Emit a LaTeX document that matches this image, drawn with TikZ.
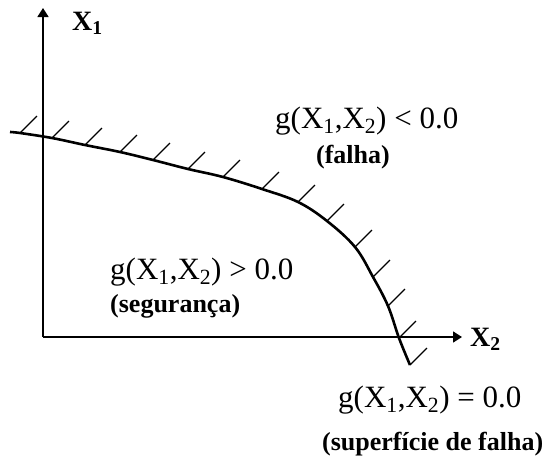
\documentclass[tikz,border=0pt]{standalone}
\usepackage{fontspec}
\setmainfont{Liberation Serif}
\usetikzlibrary{arrows.meta}
\begin{document}
\begin{tikzpicture}[x=1pt,y=-1pt,
  axis/.style={line width=1.6pt,-{Triangle[width=11pt,length=9pt]}},
  surf/.style={line width=2.6pt,line join=round},
  hatch/.style={line width=1.3pt},
  formula/.style={font=\fontsize{31}{31}\selectfont,inner sep=0pt},
  axlabel/.style={font=\fontsize{28}{28}\selectfont\bfseries,inner sep=0pt},
  note/.style={font=\fontsize{26}{26}\selectfont\bfseries,inner sep=0pt}]
\useasboundingbox (0,0) rectangle (549,461);
% axes
\coordinate (O) at (43,337);
\coordinate (ytip) at (43,8);
\coordinate (xtip) at (462,337);
\draw[axis] (O) -- (ytip);
\draw[axis] (O) -- (xtip);
\node[axlabel,anchor=base west] (x1) at (72,30) {X\textsubscript{1}};
\node[axlabel,anchor=base west] (x2) at (470,346) {X\textsubscript{2}};
% limit state surface
\coordinate (p0) at (10,132);
\coordinate (p1) at (20,133);
\coordinate (p2) at (52,138);
\coordinate (p3) at (85,145);
\coordinate (p4) at (120,152);
\coordinate (p5) at (153,160);
\coordinate (p6) at (188,169);
\coordinate (p7) at (223,177);
\coordinate (p8) at (262,189);
\coordinate (p9) at (298,202);
\coordinate (p10) at (327,221);
\coordinate (p11) at (355,247);
\coordinate (p12) at (373,277);
\coordinate (p13) at (388,306);
\coordinate (p14) at (399,338);
\coordinate (p15) at (410,365);
\draw[surf] plot[smooth,tension=0.6] coordinates {(p0) (p1) (p2) (p3) (p4) (p5) (p6) (p7) (p8) (p9) (p10) (p11) (p12) (p13) (p14) (p15)};
\foreach \i in {1,...,15} {
  \draw[hatch] (p\i) -- ++(17,-17);
}
% labels
\node[formula,anchor=base west] (fail) at (275,128) {g(X\textsubscript{1},X\textsubscript{2}) < 0.0};
\node[note,anchor=base] (failnote) at (353,163) {(falha)};
\node[formula,anchor=base west] (safe) at (110,279) {g(X\textsubscript{1},X\textsubscript{2}) > 0.0};
\node[note,anchor=base west] (safenote) at (110,312) {(segurança)};
\node[formula,anchor=base west] (lim) at (338,407) {g(X\textsubscript{1},X\textsubscript{2}) = 0.0};
\node[note,anchor=base west] (limnote) at (322,450) {(superfície de falha)};
\end{tikzpicture}
\end{document}
